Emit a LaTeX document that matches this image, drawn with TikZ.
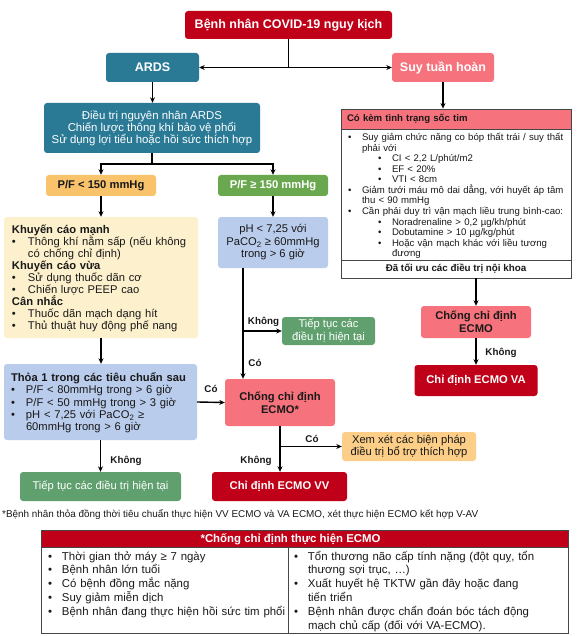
\documentclass[tikz,border=0pt]{standalone}
\usepackage{fontspec}
\setmainfont{Liberation Sans}
\usetikzlibrary{arrows.meta,calc}
\definecolor{dred}{RGB}{192,0,24}
\definecolor{tealc}{RGB}{42,122,150}
\definecolor{pinkc}{RGB}{246,114,124}
\definecolor{orgc}{RGB}{249,195,108}
\definecolor{grnc}{RGB}{106,168,79}
\definecolor{mgrn}{RGB}{96,160,110}
\definecolor{cream}{RGB}{253,240,204}
\definecolor{lblue}{RGB}{186,204,236}
\definecolor{lorg}{RGB}{252,206,135}
\definecolor{txt}{RGB}{25,25,25}
\definecolor{bord}{RGB}{70,70,70}
\newcommand\fs[2]{\fontsize{#1}{#2}\selectfont\lineskiplimit=-100pt\lineskip=0pt\relax}
\newcommand\Ln[1]{\mbox{\strut#1}}
\newcommand\bu[2][15pt]{\mbox{\strut\makebox[#1][l]{•}#2}}
\newcommand\ct[2][15pt]{\mbox{\strut\hspace*{#1}#2}}
\newcommand\sbu[2]{\mbox{\strut\hspace*{#1}\makebox[14pt][l]{•}#2}}
\tikzset{
  box/.style={rectangle, rounded corners=3pt, inner sep=0pt, align=center, font=\fs{11.2}{12.4}},
  arr/.style={-{Stealth[length=5.5pt,width=5pt]}, line width=1.4pt},
  ln/.style={line width=1.4pt},
  lab/.style={font=\bfseries\fs{9.8}{11}, text=txt, inner sep=0pt},
  sq/.style={rectangle, draw=bord, line width=0.8pt, inner sep=0pt},
}
\begin{document}
\begin{tikzpicture}[x=1pt,y=-1pt]
\fill[white] (0,0) rectangle (576,636);
\useasboundingbox (0,0) rectangle (576,636);

% top
\node[box, fill=dred, text=white, font=\bfseries\fs{12.5}{14}, minimum width=207, minimum height=28] (title) at (288.5,25) {Bệnh nhân COVID-19 nguy kịch};
\node[box, fill=tealc, text=white, font=\bfseries\fs{12.5}{14}, minimum width=93, minimum height=29] (ards) at (152.5,67.5) {ARDS};
\node[box, fill=pinkc, text=white, font=\bfseries\fs{12.5}{14}, minimum width=102, minimum height=29] (suy) at (443,67.5) {Suy tuần hoàn};
\coordinate (j1) at (title.south |- ards.east);
\draw[ln] (title.south) -- (j1);
\draw[arr] (j1) -- (ards.east);
\draw[arr] (j1) -- (suy.west);

\node[box, fill=tealc, text=white, font=\fs{11.4}{12}, minimum width=216, minimum height=50] (dt) at (152,128) {Điều trị nguyên nhân ARDS\\Chiến lược thông khí bảo vệ phổi\\Sử dụng lợi tiểu hoặc hồi sức thích hợp};
\draw[arr] (ards.south) -- (ards.south |- dt.north);

% P/F
\node[box, fill=orgc, text=txt, font=\bfseries\fs{11.2}{12}, minimum width=110, minimum height=21] (pfl) at (101,185.5) {P/F < 150 mmHg};
\node[box, fill=grnc, text=white, font=\bfseries\fs{11.2}{12}, minimum width=110, minimum height=21] (pfg) at (273,185.5) {P/F ≥ 150 mmHg};
\coordinate (j2) at (152,164);
\draw[ln] (dt.south) -- (j2);
\draw[arr] (j2) -| (pfl.north);
\draw[arr] (j2) -| (pfg.north);

% yellow box
\node[box, fill=cream, text=txt, align=left, text width=178pt, inner xsep=8pt, minimum height=121, font=\fs{11.2}{12}] (yel) at (101,277.5) {%
\Ln{\rule{0pt}{12pt}\bfseries Khuyến cáo mạnh}\\
\bu[16pt]{Thông khí nằm sấp (nếu không}\\
\ct[16pt]{có chống chỉ định)}\\
\Ln{\bfseries Khuyến cáo vừa}\\
\bu[16pt]{Sử dụng thuốc dãn cơ}\\
\bu[16pt]{Chiến lược PEEP cao}\\
\Ln{\bfseries Cân nhắc}\\
\bu[16pt]{Thuốc dãn mạch dạng hít}\\
\bu[16pt]{Thủ thuật huy động phế nang}};
\draw[arr] (pfl.south) -- (pfl.south |- yel.north);

% pH box
\node[box, fill=lblue, text=txt, font=\fs{11.2}{12.5}, minimum width=110, minimum height=51] (ph) at (273,242.5) {pH < 7,25 với\\PaCO\textsubscript{2} ≥ 60mmHg\\trong > 6 giờ};
\draw[arr] (pfg.south) -- (pfg.south |- ph.north);

% Thoa box
\node[box, fill=lblue, text=txt, align=left, text width=179pt, inner xsep=7pt, minimum height=76, font=\fs{11.2}{12.2}] (thoa) at (100.5,402) {%
\Ln{\rule{0pt}{12pt}\bfseries Thỏa 1 trong các tiêu chuẩn sau}\\
\bu{P/F < 80mmHg trong > 6 giờ}\\
\bu{P/F < 50 mmHg trong > 3 giờ}\\
\bu{pH < 7,25 với PaCO\textsubscript{2} ≥}\\
\ct{60mmHg trong > 6 giờ}};
\draw[arr] (yel.south) -- (yel.south |- thoa.north);

% Chong chi dinh ECMO*
\node[box, fill=pinkc, text=txt, font=\bfseries\fs{11.2}{13.5}, minimum width=110, minimum height=47] (chong) at (280,402.5) {Chống chỉ định\\ECMO*};
\draw[arr] (thoa.east) -- (chong.west);
\node[lab] (lco1) at (211,389) {Có};

% Tiep tuc 2
\node[box, fill=mgrn, text=white, font=\fs{11.2}{13}, minimum width=93, minimum height=28] (tt2) at (328.5,331) {Tiếp tục các\\điều trị hiện tại};
\coordinate (p1) at (243,268);
\draw[arr] (p1) -- (p1 |- chong.north);
\draw[arr] (p1 |- tt2.west) -- (tt2.west);
\node[lab] (lkh1) at (263.5,322) {Không};
\node[lab] (lco2) at (255,363) {Có};

% Xem xet, ECMO VV
\node[box, fill=lorg, text=txt, font=\fs{11.2}{12.2}, minimum width=134, minimum height=29] (xem) at (409,446.5) {Xem xét các biện pháp\\điều trị bổ trợ thích hợp};
\node[box, fill=dred, text=white, font=\bfseries\fs{11.2}{12}, minimum width=135, minimum height=29] (vv) at (279.5,486.5) {Chỉ định ECMO VV};
\draw[arr] (chong.south) -- (chong.south |- vv.north);
\draw[arr] (chong.south |- xem.west) -- (xem.west);
\node[lab] (lco3) at (312,439) {Có};
\node[lab] (lkh2) at (256,461) {Không};

% Tiep tuc 1
\node[box, fill=mgrn, text=white, font=\fs{11.2}{12}, minimum width=161, minimum height=29] (tt1) at (100.5,486.5) {Tiếp tục các điều trị hiện tại};
\draw[arr] (thoa.south) -- (thoa.south |- tt1.north);
\node[lab] (lkh3) at (126,461) {Không};

% right column
\node[sq, fill=pinkc, text=txt, align=left, text width=218pt, inner xsep=6pt, minimum height=20, font=\bfseries\fs{9.6}{11}] (rbh) at (456,119) {Có kèm tình trạng sốc tim};
\node[sq, text=txt, align=left, text width=216pt, inner xsep=7pt, minimum height=131, font=\fs{9.6}{10.55}] (rbb) at (456,194.5) {%
\bu[14pt]{\rule{0pt}{11.5pt}Suy giảm chức năng co bóp thất trái / suy thất}\\
\ct[14pt]{phải với}\\
\sbu{30pt}{CI < 2,2 L/phút/m2}\\
\sbu{30pt}{EF < 20\%}\\
\sbu{30pt}{VTI < 8cm}\\
\bu[14pt]{Giảm tưới máu mô dai dẳng, với huyết áp tâm}\\
\ct[14pt]{thu < 90 mmHg}\\
\bu[14pt]{Cần phải duy trì vận mạch liều trung bình-cao:}\\
\sbu{30pt}{Noradrenaline > 0,2 µg/kh/phút}\\
\sbu{30pt}{Dobutamine > 10 µg/kg/phút}\\
\sbu{30pt}{Hoặc vận mạch khác với liều tương}\\
\ct[44pt]{đương}};
\node[sq, text=txt, minimum width=230, minimum height=18, font=\bfseries\fs{9.8}{11}] (rbf) at (456,269) {Đã tối ưu các điều trị nội khoa};
\draw[arr] (suy.south) -- (suy.south |- rbh.north);

\node[box, fill=pinkc, text=txt, font=\bfseries\fs{11.2}{13}, minimum width=110, minimum height=32] (chong2) at (476,322) {Chống chỉ định\\ECMO};
\draw[arr] (chong2.north |- rbf.south) -- (chong2.north);
\node[box, fill=dred, text=white, font=\bfseries\fs{11.2}{12}, minimum width=123, minimum height=31] (va) at (476,380.5) {Chỉ định ECMO VA};
\draw[arr] (chong2.south) -- (va.north);
\node[lab] (lkh4) at (501,353) {Không};

% footnote
\node[anchor=west, inner sep=0pt, text=txt, font=\fs{9.9}{11}] (fn) at (2,515) {*Bệnh nhân thỏa đồng thời tiêu chuẩn thực hiện VV ECMO và VA ECMO, xét thực hiện ECMO kết hợp V-AV};

% table
\node[sq, fill=dred, text=white, minimum width=527, minimum height=17, font=\bfseries\fs{11.4}{12}] (th) at (304.5,539) {\hspace*{-28pt}*Chống chỉ định thực hiện ECMO};
\node[sq, text=txt, align=left, text width=233pt, inner xsep=7pt, minimum height=86, font=\fs{11.4}{13.8}] (tl) at (164.5,590.5) {%
\bu[14pt]{\rule{0pt}{12.5pt}Thời gian thở máy ≥ 7 ngày}\\
\bu[14pt]{Bệnh nhân lớn tuổi}\\
\bu[14pt]{Có bệnh đồng mắc nặng}\\
\bu[14pt]{Suy giảm miễn dịch}\\
\bu[14pt]{Bệnh nhân đang thực hiện hồi sức tim phổi}\\
\Ln{}};
\node[sq, text=txt, align=left, text width=268pt, inner xsep=6pt, minimum height=86, font=\fs{11.4}{13.8}] (tr) at (428,590.5) {%
\bu[14pt]{\rule{0pt}{12.5pt}Tổn thương não cấp tính nặng (đột quỵ, tổn}\\
\ct[14pt]{thương sợi trục, …)}\\
\bu[14pt]{Xuất huyết hệ TKTW gần đây hoặc đang}\\
\ct[14pt]{tiến triển}\\
\bu[14pt]{Bệnh nhân được chẩn đoán bóc tách động}\\
\ct[14pt]{mạch chủ cấp (đối với VA-ECMO).}};
\end{tikzpicture}
\end{document}
